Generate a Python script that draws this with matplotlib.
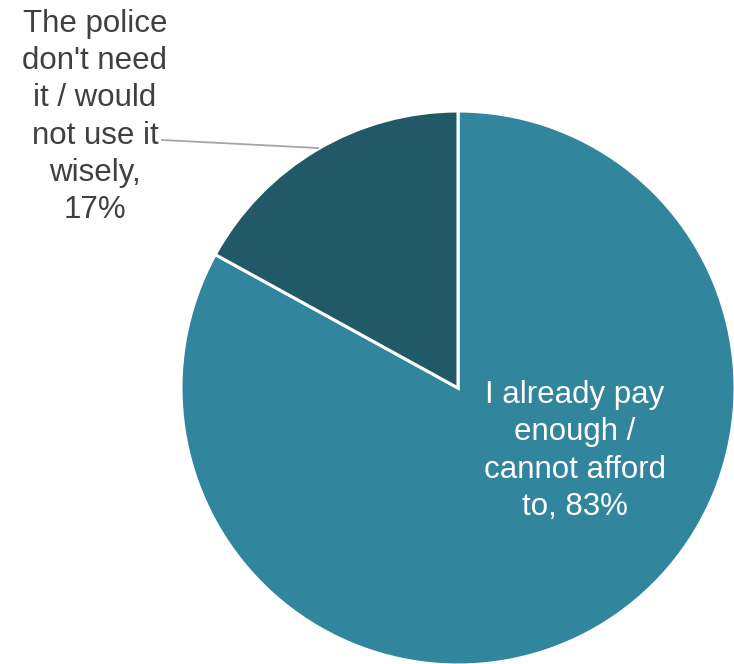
import matplotlib
matplotlib.use("Agg")
import matplotlib.pyplot as plt

categories = ["I already pay\nenough /\ncannot afford\nto", "The police\ndon't need\nit / would\nnot use it\nwisely"]
values = [83, 17]
colors = ["#31859C", "#215968"]

plt.rcParams['font.family'] = ['Liberation Sans', 'DejaVu Sans']

W, H = 734, 664
fig = plt.figure(figsize=(W / 100, H / 100), dpi=100)
ax = fig.add_axes([0, 0, 1, 1])
ax.set_xlim(0, W)
ax.set_ylim(0, H)
ax.set_aspect('equal')
ax.axis('off')

cx, cy, r = 458, H - 388, 277
wedges, _ = ax.pie(values, colors=colors, startangle=90, counterclock=False,
                   center=(cx, cy), radius=r,
                   wedgeprops=dict(edgecolor='white', linewidth=2.2))
ax.set_xlim(0, W)
ax.set_ylim(0, H)

# inside label
ax.text(575, H - 451, f"{categories[0]}, {values[0]}%", ha='center', va='center',
        color='white', fontsize=22.5, linespacing=1.32)

# outside label
ax.text(95, H - 117, f"{categories[1]},\n{values[1]}%", ha='center', va='center',
        color='#404040', fontsize=22.5, linespacing=1.31)
ax.plot([162, 318], [H - 140, H - 148], color='#A6A6A6', lw=1.3)

fig.savefig("out.png", dpi=100)
